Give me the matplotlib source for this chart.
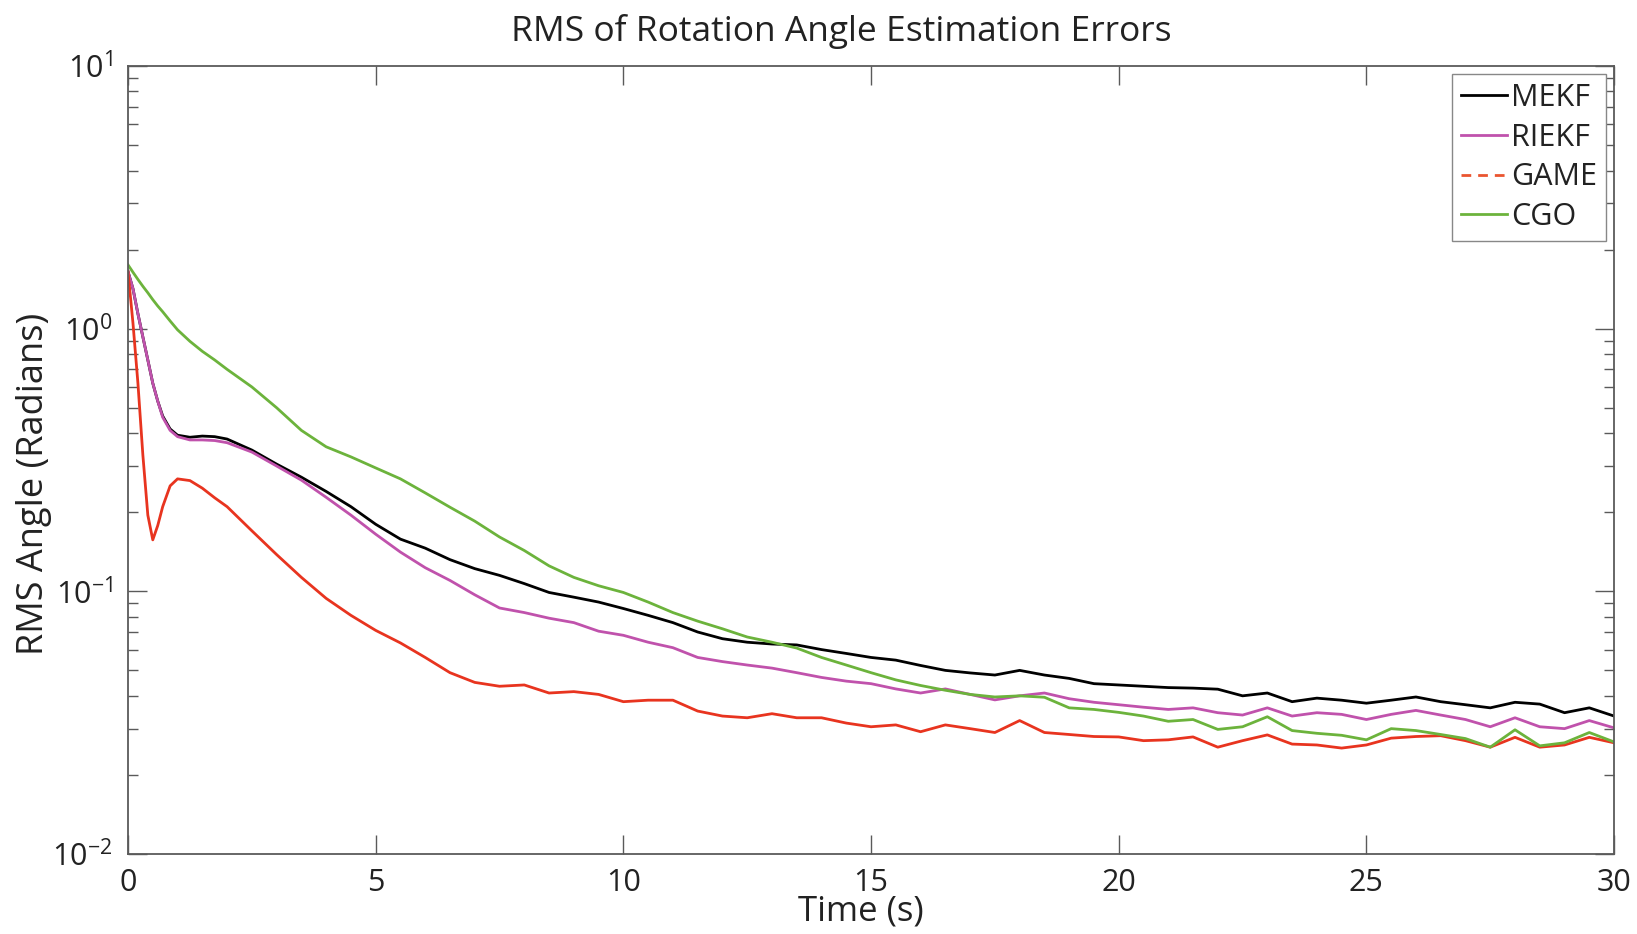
import matplotlib
matplotlib.use("Agg")
import matplotlib.pyplot as plt
from matplotlib.lines import Line2D

plt.rcParams['font.family'] = ['Open Sans', 'DejaVu Sans']
plt.rcParams['mathtext.fontset'] = 'custom'
plt.rcParams['mathtext.rm'] = 'Open Sans'
plt.rcParams['mathtext.it'] = 'Open Sans'
plt.rcParams['mathtext.bf'] = 'Open Sans'

title = "RMS of Rotation Angle Estimation Errors"
xlabel = "Time (s)"
ylabel = "RMS Angle (Radians)"
labels = ["MEKF", "RIEKF", "GAME", "CGO"]
colors = ["#000000", "#c052ac", "#e8341f", "#6cb33c"]

time = [0, 0.1, 0.2, 0.3, 0.4, 0.5, 0.6, 0.7, 0.85, 1.0, 1.25, 1.5, 1.75,
        2.0, 2.5, 3.0, 3.5, 4.0, 4.5, 5.0, 5.5, 6.0, 6.5, 7.0, 7.5, 8.0, 8.5,
        9.0, 9.5, 10.0, 10.5, 11.0, 11.5, 12.0, 12.5, 13.0, 13.5, 14.0, 14.5,
        15.0, 15.5, 16.0, 16.5, 17.0, 17.5, 18.0, 18.5, 19.0, 19.5, 20.0, 20.5,
        21.0, 21.5, 22.0, 22.5, 23.0, 23.5, 24.0, 24.5, 25.0, 25.5, 26.0, 26.5,
        27.0, 27.5, 28.0, 28.5, 29.0, 29.5, 30.0]

mekf = [1.65, 1.42, 1.14, 0.93, 0.76, 0.62, 0.53, 0.465, 0.415, 0.393, 0.386, 0.390, 0.388,
        0.380, 0.345, 0.305, 0.272, 0.240, 0.210, 0.180, 0.158, 0.146, 0.132, 0.122, 0.115, 0.107, 0.099,
        0.095, 0.091, 0.086, 0.081, 0.076, 0.070, 0.066, 0.064, 0.063, 0.0625, 0.060, 0.058,
        0.056, 0.0547, 0.0522, 0.050, 0.0489, 0.048, 0.050, 0.048, 0.0466, 0.0445, 0.044, 0.0435,
        0.043, 0.0428, 0.0424, 0.040, 0.041, 0.038, 0.0392, 0.0385, 0.0375, 0.0385, 0.0396, 0.038,
        0.037, 0.036, 0.0378, 0.0372, 0.0345, 0.036, 0.0335]

riekf = [1.65, 1.42, 1.14, 0.93, 0.76, 0.62, 0.53, 0.46, 0.41, 0.388, 0.377, 0.377, 0.375,
         0.368, 0.339, 0.300, 0.265, 0.228, 0.195, 0.165, 0.141, 0.123, 0.110, 0.097, 0.0864, 0.083, 0.079,
         0.076, 0.0705, 0.068, 0.064, 0.061, 0.056, 0.054, 0.0524, 0.051, 0.049, 0.047, 0.0455,
         0.0445, 0.0425, 0.041, 0.0425, 0.0405, 0.0386, 0.040, 0.041, 0.039, 0.0378, 0.037, 0.0362,
         0.0355, 0.036, 0.0345, 0.0338, 0.036, 0.0335, 0.0345, 0.034, 0.0325, 0.034, 0.0352, 0.0338,
         0.0325, 0.0305, 0.033, 0.0305, 0.030, 0.0322, 0.0302]

game = [1.65, 1.05, 0.62, 0.33, 0.195, 0.157, 0.178, 0.21, 0.252, 0.268, 0.264, 0.247, 0.227,
        0.210, 0.170, 0.138, 0.113, 0.094, 0.081, 0.071, 0.0636, 0.056, 0.049, 0.045, 0.0435, 0.044, 0.041,
        0.0415, 0.0405, 0.038, 0.0385, 0.0385, 0.035, 0.0335, 0.033, 0.0342, 0.033, 0.033, 0.0315,
        0.0305, 0.031, 0.0292, 0.031, 0.030, 0.029, 0.0322, 0.029, 0.0285, 0.028, 0.0279, 0.027,
        0.0272, 0.0279, 0.0255, 0.027, 0.0284, 0.0262, 0.026, 0.0253, 0.026, 0.0276, 0.028, 0.0282,
        0.027, 0.0255, 0.0278, 0.0255, 0.026, 0.0278, 0.0265]

cgo = [1.75, 1.64, 1.54, 1.45, 1.37, 1.29, 1.22, 1.16, 1.07, 0.99, 0.895, 0.82, 0.76,
       0.70, 0.600, 0.50, 0.41, 0.355, 0.325, 0.295, 0.268, 0.237, 0.209, 0.185, 0.161, 0.143, 0.125,
       0.113, 0.105, 0.099, 0.091, 0.083, 0.077, 0.072, 0.067, 0.064, 0.0608, 0.056, 0.0524,
       0.049, 0.046, 0.0438, 0.042, 0.0405, 0.0396, 0.040, 0.0395, 0.036, 0.0355, 0.0346, 0.0335,
       0.032, 0.0325, 0.0298, 0.0305, 0.0333, 0.0295, 0.0288, 0.0283, 0.0272, 0.030, 0.0295, 0.0285,
       0.0275, 0.0255, 0.0297, 0.0258, 0.0265, 0.029, 0.0267]

xticks = [0, 5, 10, 15, 20, 25, 30]

fig = plt.figure(figsize=(16.37, 9.34), dpi=100)
ax = fig.add_axes([0.0782, 0.0857, 0.9078, 0.8436])

series = [mekf, riekf, game, cgo]
for vals, col in zip(series, colors):
    ax.plot(time, vals, color=col, lw=2.0, solid_joinstyle='round')

ax.set_yscale('log')
ax.set_xlim(0, 30)
ax.set_ylim(1e-2, 1e1)
ax.set_xticks(xticks)
ax.set_xticklabels([str(v) for v in xticks])

spine_col = "#5a5a5a"
for s in ax.spines.values():
    s.set_color(spine_col)
    s.set_linewidth(1.3)
ax.tick_params(which='both', direction='in', top=True, right=True, color=spine_col)
ax.tick_params(which='major', length=14, width=1.0, labelsize=22, labelcolor='#222222')
ax.tick_params(which='minor', length=7, width=1.0)
ax.tick_params(axis='x', which='major', pad=10)
ax.tick_params(axis='y', which='major', pad=11)

ax.set_title(title, fontsize=25.5, pad=18, color='#222222', x=0.48)
ax.set_xlabel(xlabel, fontsize=25, labelpad=-1, color='#222222')
ax.xaxis.set_label_coords(0.493, -0.052)
ax.set_ylabel(ylabel, fontsize=26, color='#222222')
ax.yaxis.set_label_coords(-0.051, 0.47)

handles = [Line2D([], [], color=colors[0], lw=2.0),
           Line2D([], [], color=colors[1], lw=2.0),
           Line2D([], [], color="#ea5530", lw=2.0, ls=(0, (3.5, 2.5))),
           Line2D([], [], color=colors[3], lw=2.0)]
leg = ax.legend(handles, labels, loc='upper right', fontsize=22, fancybox=False,
                framealpha=1, edgecolor='#888888', borderaxespad=0.25,
                handlelength=1.5, handletextpad=0.15, labelspacing=0.32,
                borderpad=0.3)
leg.get_frame().set_linewidth(1.0)
for t in leg.get_texts():
    t.set_color('#222222')

fig.savefig("out.png", dpi=100)
